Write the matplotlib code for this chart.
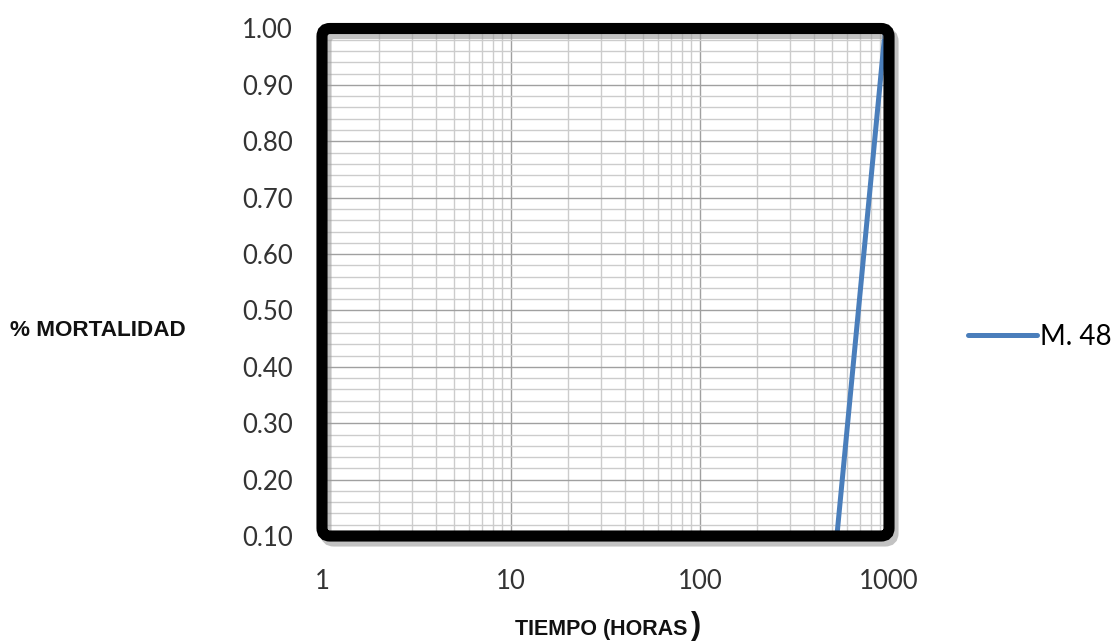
import matplotlib.pyplot as plt
from matplotlib.patches import FancyBboxPatch
from matplotlib.transforms import IdentityTransform
from matplotlib.ticker import LogLocator, MultipleLocator, FixedLocator

# data
tiempo = [530, 950]
mortalidad = [0.10, 0.99]
serie = "M. 48"
x_ticks = [1, 10, 100, 1000]
x_tick_labels = ["1", "10", "100", "1000"]
y_ticks = [0.1, 0.2, 0.3, 0.4, 0.5, 0.6, 0.7, 0.8, 0.9, 1.0]

W, H = 1117, 641
fig = plt.figure(figsize=(W / 100, H / 100), dpi=100)

# plot area in pixels (centre of the thick frame)
left, right, top, bottom = 322, 889, 28.5, 536
ax = fig.add_axes([left / W, 1 - bottom / H, (right - left) / W, (bottom - top) / H])

ax.plot(tiempo, mortalidad, color="#4a7ebb", lw=3.6, solid_capstyle="round", label=serie, zorder=3)

ax.set_xscale("log")
ax.set_xlim(1, 1000)
ax.set_ylim(0.1, 1.0)

ax.xaxis.set_major_locator(FixedLocator(x_ticks))
ax.set_xticks(x_ticks, x_tick_labels)
ax.xaxis.set_minor_locator(LogLocator(base=10, subs=range(2, 10)))
ax.set_yticks(y_ticks, [f"{v:.2f}" for v in y_ticks])
ax.yaxis.set_minor_locator(MultipleLocator(0.02))

ax.grid(which="major", color="#a0a0a0", lw=1.0)
ax.grid(which="minor", color="#cccccc", lw=1.0)
ax.set_axisbelow(True)
ax.tick_params(which="both", length=0)
ax.tick_params(axis="x", pad=24)
ax.tick_params(axis="y", pad=21)
for lab in ax.get_xticklabels() + ax.get_yticklabels():
    lab.set_fontfamily("Lato")
    lab.set_fontsize(18.5)
    lab.set_color("#333333")
for s in ax.spines.values():
    s.set_visible(False)

# thick rounded frame with a soft shadow
shadow = FancyBboxPatch((left + 4, H - bottom - 5), right - left, bottom - top,
                        boxstyle="round,pad=0,rounding_size=8", transform=IdentityTransform(),
                        fill=False, ec="#9a9a9a", lw=8, alpha=0.6, zorder=4)
frame = FancyBboxPatch((left, H - bottom), right - left, bottom - top,
                       boxstyle="round,pad=0,rounding_size=8", transform=IdentityTransform(),
                       fill=False, ec="black", lw=8, zorder=5)
fig.add_artist(shadow)
fig.add_artist(frame)

fig.text(10 / W, 1 - 330 / H, "% MORTALIDAD", fontsize=16.2, fontweight="bold",
         family="Liberation Sans", ha="left", va="center", color="#111111")
fig.text(515 / W, 1 - 629 / H, "TIEMPO (HORAS", fontsize=15.5, fontweight="bold",
         family="Liberation Sans", ha="left", va="center", color="#111111")
fig.text(691 / W, 1 - 626 / H, ")", fontsize=22, fontweight="bold",
         family="Liberation Sans", ha="left", va="center", color="#111111")

ax.legend(loc="center left", bbox_to_anchor=(968 / W, 1 - 337 / H), bbox_transform=fig.transFigure,
          frameon=False, handlelength=2.5, handletextpad=0.1, borderpad=0, borderaxespad=0,
          prop={"family": "Lato", "size": 20})

fig.savefig("out.png", dpi=100)
